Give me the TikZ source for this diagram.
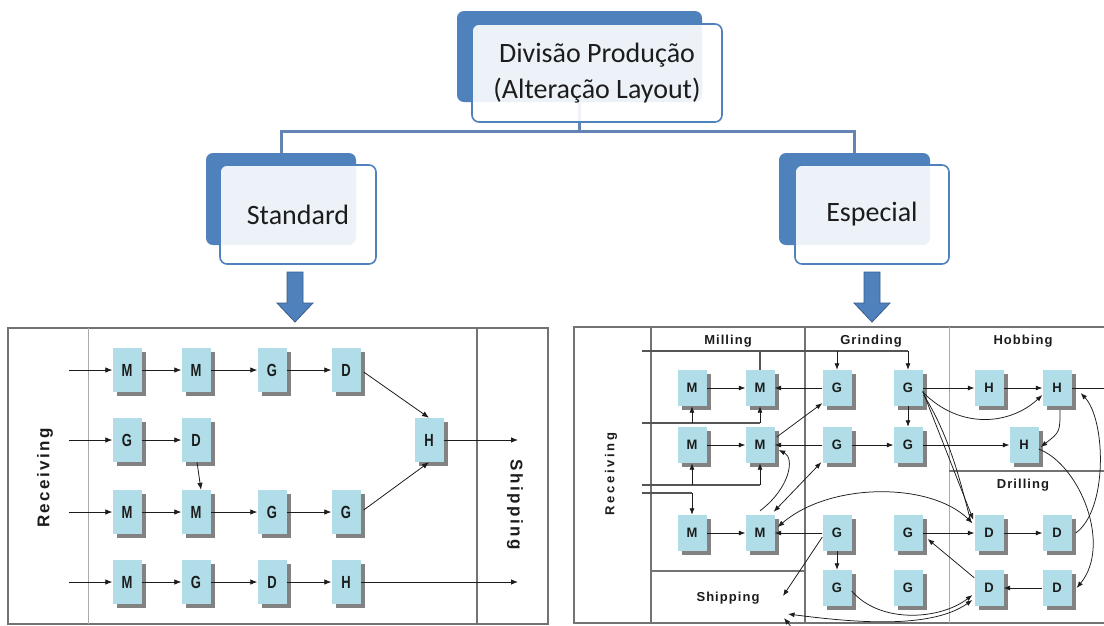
\documentclass[tikz,border=0pt]{standalone}
\usepackage{fontspec}
\setmainfont{Carlito}
\newfontfamily\cellfam{Liberation Sans}
\newfontfamily\recfam{Liberation Sans}[LetterSpace=14]
\newfontfamily\shipfam{Liberation Sans}[LetterSpace=15]
\newfontfamily\recsmall{Liberation Sans}[LetterSpace=21]
\newfontfamily\headfam{Liberation Sans}[LetterSpace=8]
\usetikzlibrary{arrows.meta,shadows,calc}

\definecolor{office}{RGB}{79,129,189}
\definecolor{officedark}{RGB}{56,93,138}
\definecolor{linkc}{RGB}{100,132,180}
\definecolor{cellc}{RGB}{176,221,231}
\definecolor{shadowc}{RGB}{130,130,130}
\definecolor{framec}{RGB}{115,115,115}
\definecolor{feedc}{RGB}{85,85,85}
\definecolor{inkc}{RGB}{28,28,28}

\newcommand\cellfont{\cellfam\bfseries\fontsize{13}{13}\selectfont}
\newcommand\tallL[1]{\scalebox{1}[1.35]{#1}}
\newcommand\tallR[1]{\scalebox{1}[1.05]{#1}}

\tikzset{
  link/.style={draw=linkc, line width=3pt},
  backbox/.style={fill=office, rounded corners=7pt, inner sep=0pt},
  frontbox/.style={draw=office, line width=1.6pt, fill=white, fill opacity=0.9,
    text opacity=1, rounded corners=7pt, inner sep=0pt, text=inkc,
    font=\fontsize{28}{36}\selectfont, align=center},
  blockarrow/.style={fill=office, draw=officedark, line width=0.8pt},
  cellbase/.style={fill=cellc, inner sep=0pt, text=inkc, font=\cellfont,
    general shadow={fill=shadowc, shadow xshift=4pt, shadow yshift=-4pt}},
  lcell/.style={cellbase, minimum width=29pt, minimum height=44pt},
  rcell/.style={cellbase, minimum width=29pt, minimum height=36pt},
  flow/.style={draw=inkc, line width=0.8pt, -{Latex[length=7pt,width=5.5pt]}},
  rflow/.style={draw=inkc, line width=0.75pt, -{Latex[length=6.5pt,width=5pt]}},
  rboth/.style={draw=inkc, line width=0.75pt,
    {Latex[length=6.5pt,width=5pt]}-{Latex[length=6.5pt,width=5pt]}},
  rline/.style={draw=inkc, line width=0.75pt},
  feed/.style={draw=feedc, line width=1.1pt},
  rule/.style={draw=framec, line width=1.5pt},
  thinrule/.style={draw=framec!60, line width=0.8pt},
  head/.style={font=\headfam\bfseries\fontsize{13}{13}\selectfont, text=inkc},
}

\begin{document}
\begin{tikzpicture}[x=1pt,y=-1pt]
\useasboundingbox (0,0) rectangle (1104,625);
\fill[white] (0,0) rectangle (1104,625);

% ---------- organisation chart ----------
\node[backbox, minimum width=245pt, minimum height=91pt] (topback) at (579.5,56.5) {};
\node[backbox, minimum width=150pt, minimum height=92pt] (stdback) at (281,199) {};
\node[backbox, minimum width=151pt, minimum height=92pt] (espback) at (854.5,199) {};

\coordinate (bus) at (0,131);
\draw[link] (topback.south) -- (topback.south |- bus);
\draw[link] (stdback.north) -- (stdback.north |- bus) -- (espback.north |- bus) -- (espback.north);

\node[frontbox, minimum width=250pt, minimum height=98pt] (top) at (597,73)
  {Divisão Produção\\(Alteração Layout)};
\node[frontbox, minimum width=156pt, minimum height=99pt] (std) at (298,214.5) {Standard};
\node[frontbox, minimum width=154pt, minimum height=99pt] (esp) at (872,214.5) {Especial};

% block arrows below the two branches
\filldraw[blockarrow] (287,272) -- (303,272) -- (303,303) -- (313,303) -- (295,322)
  -- (277,303) -- (287,303) -- cycle;
\filldraw[blockarrow] (864,272) -- (880,272) -- (880,303) -- (890,303) -- (872,322)
  -- (854,303) -- (864,303) -- cycle;

% ---------- product layout (left) ----------
\draw[rule] (8,328) rectangle (548,624);
\draw[thinrule] (88,328) -- (88,624);
\draw[rule] (477,328) -- (477,624);
\node[rotate=90, font=\recfam\bfseries\fontsize{17}{17}\selectfont, text=inkc] (recL) at (45,478) {Receiving};
\node[rotate=-90, font=\shipfam\bfseries\fontsize{17}{17}\selectfont, text=inkc] (shipL) at (515,505) {Shipping};

\node[lcell] (a1) at (127,370) {\tallL{M}};
\node[lcell] (a2) at (196,370) {\tallL{M}};
\node[lcell] (a3) at (272,370) {\tallL{G}};
\node[lcell] (a4) at (346,370) {\tallL{D}};
\node[lcell] (b1) at (127,440) {\tallL{G}};
\node[lcell] (b2) at (196,440) {\tallL{D}};
\node[lcell] (hh) at (429,440) {\tallL{H}};
\node[lcell] (c1) at (127,512) {\tallL{M}};
\node[lcell] (c2) at (196,512) {\tallL{M}};
\node[lcell] (c3) at (272,512) {\tallL{G}};
\node[lcell] (c4) at (346,512) {\tallL{G}};
\node[lcell] (d1) at (127,582) {\tallL{M}};
\node[lcell] (d2) at (196,582) {\tallL{G}};
\node[lcell] (d3) at (272,582) {\tallL{D}};
\node[lcell] (d4) at (346,582) {\tallL{H}};

\coordinate (a0) at (69,370);
\coordinate (b0) at (69,440);
\coordinate (c0) at (69,512);
\coordinate (d0) at (69,582);
\coordinate (hx) at (518,440);
\coordinate (dx) at (518,582);

\draw[flow] (a0) -- (a1);
\draw[flow] (a1) -- (a2);
\draw[flow] (a2) -- (a3);
\draw[flow] (a3) -- (a4);
\draw[flow] ($(a4.east)+(3,2)$) -- (hh.north);
\draw[flow] (b0) -- (b1);
\draw[flow] (b1) -- (b2);
\draw[flow] ([xshift=1pt]b2.south) -- ([xshift=5pt]c2.north);
\draw[flow] (hh) -- (hx);
\draw[flow] (c0) -- (c1);
\draw[flow] (c1) -- (c2);
\draw[flow] (c2) -- (c3);
\draw[flow] (c3) -- (c4);
\draw[flow] ($(c4.east)+(3,-2)$) -- (hh.south);
\draw[flow] (d0) -- (d1);
\draw[flow] (d1) -- (d2);
\draw[flow] (d2) -- (d3);
\draw[flow] (d3) -- (d4);
\draw[flow] (d4) -- (dx);

% ---------- process layout (right) ----------
\draw[rule] (1110,327) -- (574,327) -- (574,623) -- (1110,623);
\draw[rule] (651,327) -- (651,623);
\draw[rule] (805,327) -- (805,623);
\draw[thinrule] (949,327) -- (949,623);
\draw[rule] (651,571) -- (805,571);
\draw[rule] (949,471) -- (1110,471);

\node[head] (mill) at (728,341) {Milling};
\node[head] (grind) at (871,341) {Grinding};
\node[head] (hobb) at (1023,341) {Hobbing};
\node[head] (drill) at (1023,485) {Drilling};
\node[head] (shipR) at (728,598) {Shipping};
\node[rotate=90, font=\recsmall\bfseries\fontsize{13}{13}\selectfont, text=inkc] (recR) at (611,474) {Receiving};

\node[rcell] (r11) at (692,388) {\tallR{M}};
\node[rcell] (r12) at (760,388) {\tallR{M}};
\node[rcell] (r13) at (837,388) {\tallR{G}};
\node[rcell] (r14) at (908,388) {\tallR{G}};
\node[rcell] (r15) at (989,388) {\tallR{H}};
\node[rcell] (r16) at (1057,388) {\tallR{H}};
\node[rcell] (r21) at (692,445) {\tallR{M}};
\node[rcell] (r22) at (760,445) {\tallR{M}};
\node[rcell] (r23) at (837,445) {\tallR{G}};
\node[rcell] (r24) at (908,445) {\tallR{G}};
\node[rcell] (r25) at (1024,445) {\tallR{H}};
\node[rcell] (r31) at (692,533) {\tallR{M}};
\node[rcell] (r32) at (760,533) {\tallR{M}};
\node[rcell] (r33) at (837,533) {\tallR{G}};
\node[rcell] (r34) at (908,533) {\tallR{G}};
\node[rcell] (r35) at (989,533) {\tallR{D}};
\node[rcell] (r36) at (1057,533) {\tallR{D}};
\node[rcell] (r43) at (837,588) {\tallR{G}};
\node[rcell] (r44) at (908,588) {\tallR{G}};
\node[rcell] (r45) at (989,588) {\tallR{D}};
\node[rcell] (r46) at (1057,588) {\tallR{D}};

% feeds from receiving
\coordinate (fa) at (642,351);
\coordinate (fb) at (642,423);
\coordinate (fc) at (642,485);
\coordinate (fd) at (642,493);
\draw[feed] (fa) -- (r14.north |- fa);
\draw[feed] (r12.north |- fa) -- (r12.north);
\draw[rflow] (r13.north |- fa) -- (r13.north);
\draw[rflow] (r14.north |- fa) -- (r14.north);
\draw[feed] (fb) -- (r12.south |- fb);
\draw[rflow] (r11.south |- fb) -- (r11.south);
\draw[rflow] (r12.south |- fb) -- (r12.south);
\draw[feed] (fc) -- (r22.south |- fc);
\draw[rflow] (r21.south |- fc) -- (r21.south);
\draw[rflow] (r22.south |- fc) -- (r22.south);
\draw[feed] (fd) -- (r31.north |- fd);
\draw[rflow] (r31.north |- fd) -- (r31.north);

% first row
\coordinate (outR) at (1104,388);
\draw[rflow] (r11) -- (r12);
\draw[rflow] (r13) -- (r12);
\draw[rflow] (r14) -- (r15);
\draw[rflow] (r15) -- (r16);
\draw[rline] (r16) -- (outR);
\draw[rflow] (r14) -- (r24);
\draw[rflow] ($(r14.east)+(0,4)$) .. controls (960,430) and (1010,425) .. ($(r16.west)+(0,7)$);
\draw[rflow] ($(r14.east)+(0,3)$) -- ($(r35.north west)+(-1,5)$);
\draw[rline] ($(r14.east)+(1,7)$) .. controls (952,440) and (962,490) .. ($(r35.north west)+(-3,8)$);

% second row
\draw[rflow] (r21) -- (r22);
\draw[rflow] (r23) -- (r22);
\draw[rflow] (r23) -- (r24);
\draw[rflow] (r24) -- (r25);
\draw[rflow] ($(r22.east)+(2,-8)$) -- ($(r13.south west)+(0,-3)$);
\draw[rflow] ($(r16.south)+(3,4)$) .. controls (1060,432) .. ($(r25.east)+(2,2)$);
\draw[rflow] ($(r25.east)+(0,4)$) .. controls (1080,465) and (1112,545) .. ($(r46.east)+(5,0)$);
\draw[rflow] ($(r36.east)+(4,0)$) .. controls (1108,510) and (1106,420) .. ($(r16.east)+(9,5)$);

% third row
\coordinate (shipA) at (783,596);
\draw[rflow] (r31) -- (r32);
\draw[rflow] (r33) -- (r32);
\draw[rflow] (r34) -- (r35);
\draw[rflow] (r35) -- (r36);
\draw[rflow] (r33) -- (r43);
\draw[rflow] ($(r33.west)+(0,4)$) -- (shipA);
\draw[rflow] ($(r45.north west)+(0,8)$) -- ($(r34.east)+(5,6)$);
\draw[rboth] ($(r32.east)+(3,-6)$) .. controls (830,482) and (930,482) .. ($(r35.west)+(-2,-10)$);
\draw[rboth] ($(r32.north east)+(-1,-3)$) -- ($(r23.south west)+(-1,-1)$);
\draw[rflow] ($(r32.north)+(0,-4)$) .. controls (790,488) and (795,458) .. ($(r22.east)+(4,5)$);

% fourth row
\coordinate (shipB) at (788,614);
\coordinate (stubA) at (792,628);
\coordinate (stubB) at (784,618);
\draw[rflow] (r46) -- (r45);
\draw[rflow] ($(r43.east)+(0,3)$) .. controls (880,624) and (940,620) .. ($(r45.west)+(-2,7)$);
\draw[rboth] ($(r45.west)+(-2,12)$) .. controls (930,630) and (850,622) .. (shipB);
\draw[rflow] (stubA) -- (stubB);
\end{tikzpicture}
\end{document}
